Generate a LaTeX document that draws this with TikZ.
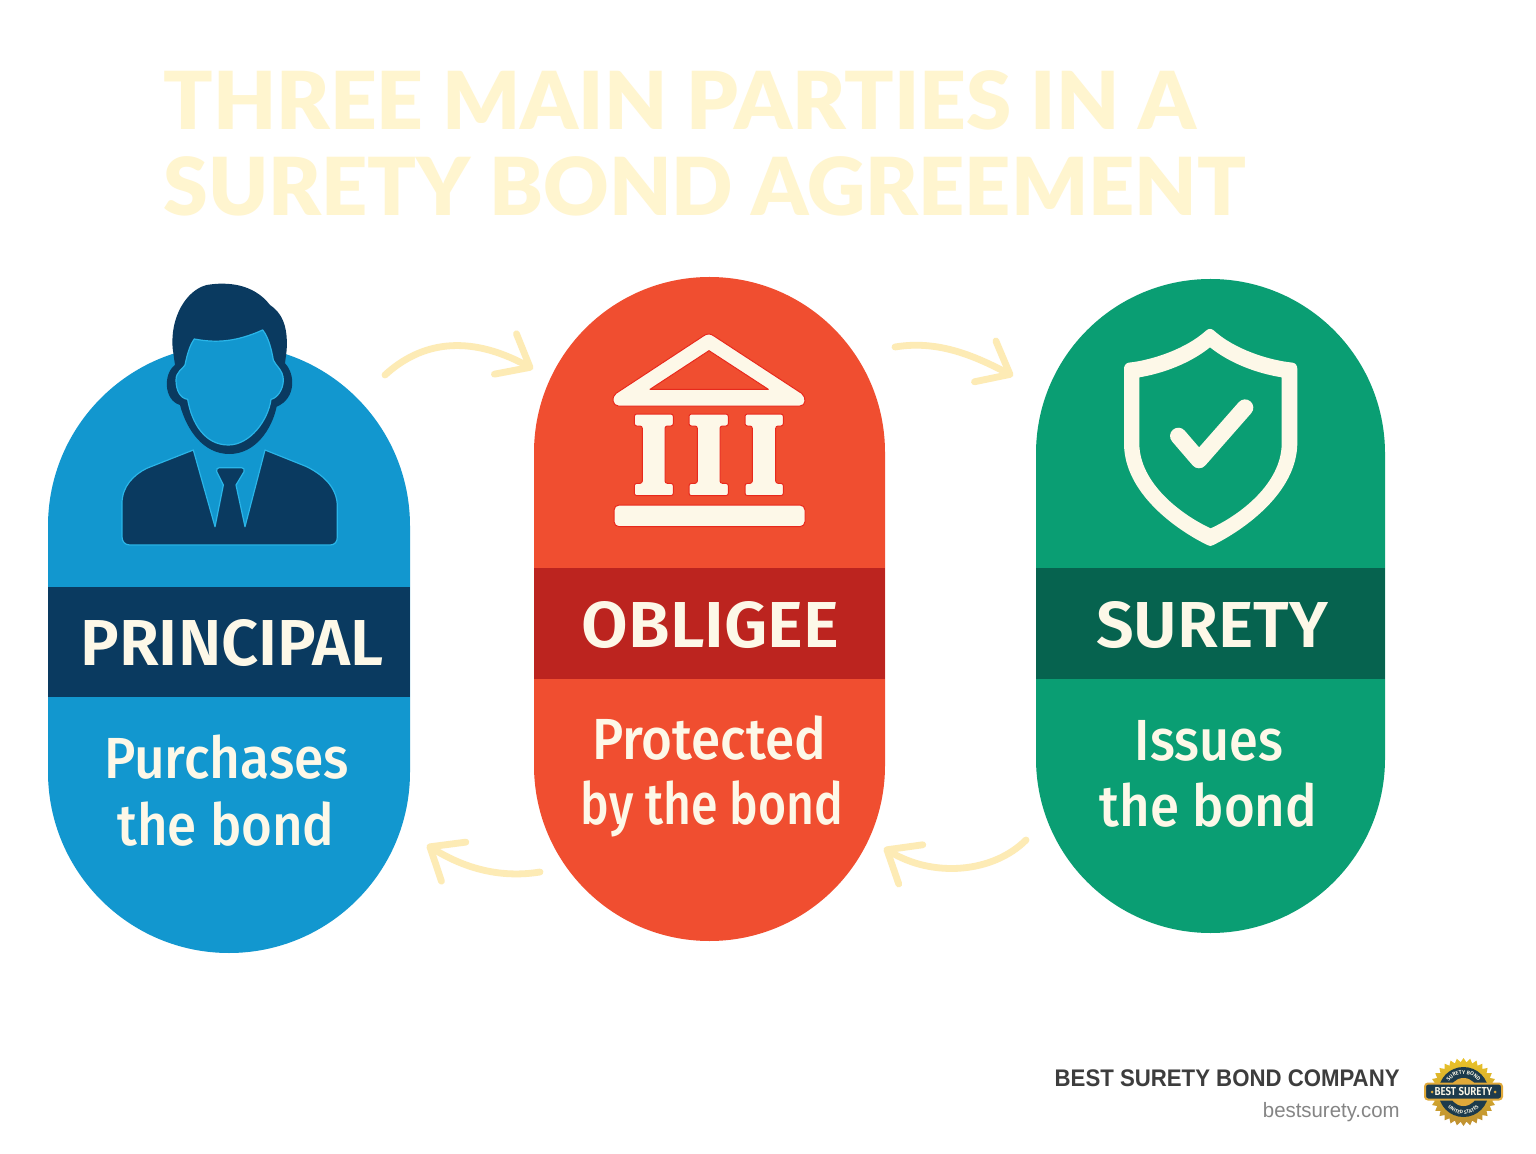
\documentclass[tikz,border=0pt]{standalone}
\usepackage{fontspec}
\setmainfont{Fira Sans}
\newfontfamily\descfont{Fira Sans Medium}
\newfontfamily\namefont{Fira Sans SemiBold}
\newfontfamily\titlefont{Lato Black}
\newfontfamily\footfont{Liberation Sans}
\usetikzlibrary{arrows.meta,shapes.geometric,decorations.text}
\definecolor{cblue}{HTML}{1297CF}
\definecolor{cnavy}{HTML}{0A3A60}
\definecolor{cblueline}{HTML}{2AB5E8}
\definecolor{cred}{HTML}{F04E30}
\definecolor{cdred}{HTML}{BC241F}
\definecolor{credline}{HTML}{E8291C}
\definecolor{cgreen}{HTML}{0A9E73}
\definecolor{cdgreen}{HTML}{06634F}
\definecolor{ccream}{HTML}{FDF8E8}
\definecolor{ctitle}{HTML}{FFF5CF}
\definecolor{carrow}{HTML}{FDEBB5}
\definecolor{cgold}{HTML}{E0A93A}
\definecolor{cseal}{HTML}{1D3B4C}
\tikzset{
  x=.5pt,y=-.5pt,
  pillbox/.style={rectangle,inner sep=0,outer sep=0},
  bandbox/.style={rectangle,inner sep=0,outer sep=0,minimum height=55.25pt},
  partyname/.style={anchor=base,inner sep=0,text=ccream,font=\namefont\fontsize{32.5pt}{32.5pt}\selectfont},
  partydesc/.style={anchor=base,inner sep=0,text=ccream,font=\descfont\fontsize{29pt}{29pt}\selectfont},
  titleline/.style={anchor=base west,inner sep=0,text=ctitle,font=\titlefont\fontsize{40pt}{40pt}\selectfont},
  flow/.style={draw=carrow,line width=3.4pt,line cap=round,line join=round,
    -{Straight Barb[length=14pt,width=23pt,line width=3.4pt,round]}},
  icon/.style={x=.16667pt,y=-.16667pt},
}
\begin{document}
\begin{tikzpicture}
\useasboundingbox (0,0) rectangle (1536,1154);
\fill[white] (0,0) rectangle (1536,1154);

% title
\node[titleline] (t1) at (163,130) {\scalebox{1.02}[1]{THREE MAIN PARTIES IN A}};
\node[titleline] (t2) at (163,216) {\scalebox{1.008}[1]{SURETY BOND AGREEMENT}};

% pills
\node[pillbox,fill=cblue,minimum width=181pt,minimum height=304pt,rounded corners=90.5pt] (principal) at (229,649) {};
\node[pillbox,fill=cred,minimum width=175.5pt,minimum height=332pt,rounded corners=87.75pt] (obligee) at (709.5,609) {};
\node[pillbox,fill=cgreen,minimum width=174.5pt,minimum height=327pt,rounded corners=87.25pt] (surety) at (1210.5,606) {};

% bands
\node[bandbox,fill=cnavy,minimum width=181pt] (pband) at (229,642) {};
\node[bandbox,fill=cdred,minimum width=175.5pt] (oband) at (709.5,623.5) {};
\node[bandbox,fill=cdgreen,minimum width=174.5pt] (sband) at (1210.5,623.5) {};

% labels
\node[partyname] (pn) at (232,665) {PRINCIPAL};
\node[partyname] (on) at (710.5,647) {\scalebox{1.04}[1]{OBLIGEE}};
\node[partyname] (sn) at (1212,647) {\scalebox{1.026}[1]{SURETY}};
\node[partydesc] (pd1) at (226.5,778) {\scalebox{.917}[1]{Purchases}};
\node[partydesc] (pd2) at (226,845) {\scalebox{.91}[1]{the bond}};
\node[partydesc] (od1) at (709,759) {\scalebox{.913}[1]{Protected}};
\node[partydesc] (od2) at (712,824) {\scalebox{.83}[1]{by the bond}};
\node[partydesc] (sd1) at (1209,760) {\scalebox{.9}[1]{Issues}};
\node[partydesc] (sd2) at (1208.5,826) {\scalebox{.91}[1]{the bond}};

% connectors
\coordinate (a1s) at (385,375);
\coordinate (a1e) at (533,369);
\coordinate (a2s) at (540,872);
\coordinate (a2e) at (427,845);
\coordinate (a3s) at (1026,840);
\coordinate (a3e) at (884,848);
\coordinate (a4s) at (895,347);
\coordinate (a4e) at (1013,376);
\draw[flow] (a1s) .. controls (420,343) and (467,333) .. (a1e);
\draw[flow] (a2s) .. controls (503,878) and (467,870) .. (a2e);
\draw[flow] (a3s) .. controls (993,873) and (933,878) .. (a3e);
\draw[flow] (a4s) .. controls (937,340) and (973,355) .. (a4e);

% man icon
\begin{scope}[shift={(100,270)},icon]
\fill[cnavy] (218,235) .. controls (210,140) and (260,60) .. (320,45)
  .. controls (380,35) and (460,40) .. (510,105)
  .. controls (540,125) and (565,160) .. (560,240) -- (555,280)
  .. controls (585,310) and (590,385) .. (530,410)
  .. controls (515,480) and (465,552) .. (388,552)
  .. controls (310,552) and (260,480) .. (240,405)
  .. controls (190,390) and (190,310) .. (225,285) -- cycle;
\filldraw[fill=cblue,draw=cblueline,line width=.6pt] (283,207)
  .. controls (350,220) and (410,215) .. (488,180)
  .. controls (505,200) and (515,240) .. (520,270)
  .. controls (525,285) and (550,300) .. (550,330)
  .. controls (550,360) and (530,385) .. (513,388)
  .. controls (505,450) and (450,525) .. (385,525)
  .. controls (315,525) and (275,460) .. (263,388)
  .. controls (240,385) and (228,360) .. (228,330)
  .. controls (228,305) and (250,295) .. (255,285)
  .. controls (262,250) and (270,225) .. (283,207) -- cycle;
\filldraw[fill=cnavy,draw=cblueline,line width=.6pt,line join=round] (280,540) -- (345,770) -- (370,645) -- (350,605)
  .. controls (348,597) and (352,593) .. (358,593) -- (425,593)
  .. controls (431,593) and (434,598) .. (432,605) -- (408,645) -- (435,770) -- (495,540)
  -- (620,590) .. controls (680,620) and (712,660) .. (712,710)
  -- (712,800) .. controls (712,815) and (705,825) .. (690,825)
  -- (90,825) .. controls (75,825) and (66,815) .. (66,800)
  -- (66,700) .. controls (66,650) and (100,615) .. (140,595) -- cycle;
\end{scope}

% building icon
\begin{scope}[shift={(590,320)},icon]
\filldraw[fill=ccream,draw=credline,line width=.5pt,even odd rule,line join=round]
  (340,48) .. controls (350,40) and (362,40) .. (372,48) -- (635,220)
  .. controls (650,232) and (648,258) .. (630,258) -- (85,258)
  .. controls (68,258) and (62,232) .. (78,220) -- cycle
  (357,92) -- (535,208) -- (180,208) -- cycle;
\foreach \cl/\cr/\sl/\sr in {133/250/157/225,297/415/322/390,465/580/487/557}{
  \filldraw[fill=ccream,draw=credline,line width=.5pt,rounded corners=1.2pt]
    (\cl,282) -- (\cr,282) -- (\cr,318) -- (\sr,318) -- (\sr,490) -- (\cr,490) -- (\cr,527)
    -- (\cl,527) -- (\cl,490) -- (\sl,490) -- (\sl,318) -- (\cl,318) -- cycle;
}
\filldraw[fill=ccream,draw=credline,line width=.5pt,rounded corners=2.5pt] (72,555) rectangle (645,620);
\end{scope}

% shield icon
\begin{scope}[shift={(1100,310)},icon]
\fill[ccream,even odd rule]
  (318,62) .. controls (326,55) and (334,55) .. (342,62)
  .. controls (400,115) and (500,150) .. (578,158)
  .. controls (588,160) and (592,168) .. (592,178) -- (592,400)
  .. controls (590,550) and (430,660) .. (340,705)
  .. controls (334,709) and (328,709) .. (322,705)
  .. controls (230,660) and (72,550) .. (72,400) -- (72,178)
  .. controls (72,168) and (76,160) .. (86,158)
  .. controls (160,150) and (260,115) .. (318,62) -- cycle
  (330,112) .. controls (390,160) and (470,190) .. (545,202) -- (545,400)
  .. controls (545,520) and (420,615) .. (332,655)
  .. controls (245,615) and (118,520) .. (118,400) -- (118,202)
  .. controls (190,190) and (270,160) .. (330,112) -- cycle;
\draw[ccream,line width=8.3pt,line cap=round,line join=round] (235,378) -- (297,450) -- (435,293);
\end{scope}

% footer
\node[anchor=base east,inner sep=0,text=black!76,font=\footfont\fontsize{12pt}{12pt}\selectfont\bfseries] (brand) at (1400,1086) {\scalebox{.925}[1]{BEST SURETY BOND COMPANY}};
\node[anchor=base east,inner sep=0,text=black!48,font=\footfont\fontsize{10.4pt}{10.4pt}\selectfont] (site) at (1400,1117) {\scalebox{.98}[1]{bestsurety.com}};

% seal
\node[star,star points=32,star point ratio=1.14,minimum size=34pt,inner sep=0,top color=cgold!70!yellow,bottom color=cgold!85!black,draw=none] (seal) at (1463.5,1092) {};
\fill[cseal] (seal.center) circle[radius=25];
\fill[cgold] (seal.center) circle[radius=14];
\path[decorate,decoration={text along path,text align=center,text={|\namefont\fontsize{2.7pt}{2.7pt}\selectfont\color{ccream}|SURETY BOND}}]
  (1445.5,1092) arc[start angle=180,end angle=360,radius=18];
\path[decorate,decoration={text along path,text align=center,text={|\namefont\fontsize{2.5pt}{2.5pt}\selectfont\color{ccream}|UNITED STATES}}]
  (1441.5,1092) arc[start angle=180,end angle=0,radius=22];
\node[rectangle,rounded corners=1.5pt,fill=cseal,draw=cgold,line width=1pt,minimum width=38.5pt,minimum height=8pt,inner sep=0] (banner) at (1463.5,1091.5) {};
\node[inner sep=0,text=ccream,font=\namefont\fontsize{5.8pt}{5.8pt}\selectfont] (bannertext) at (banner.center) {\scalebox{.84}[1]{BEST SURETY}};
\fill[cgold] (1432,1092) circle[radius=1.5] (1495,1092) circle[radius=1.5];
\end{tikzpicture}
\end{document}
